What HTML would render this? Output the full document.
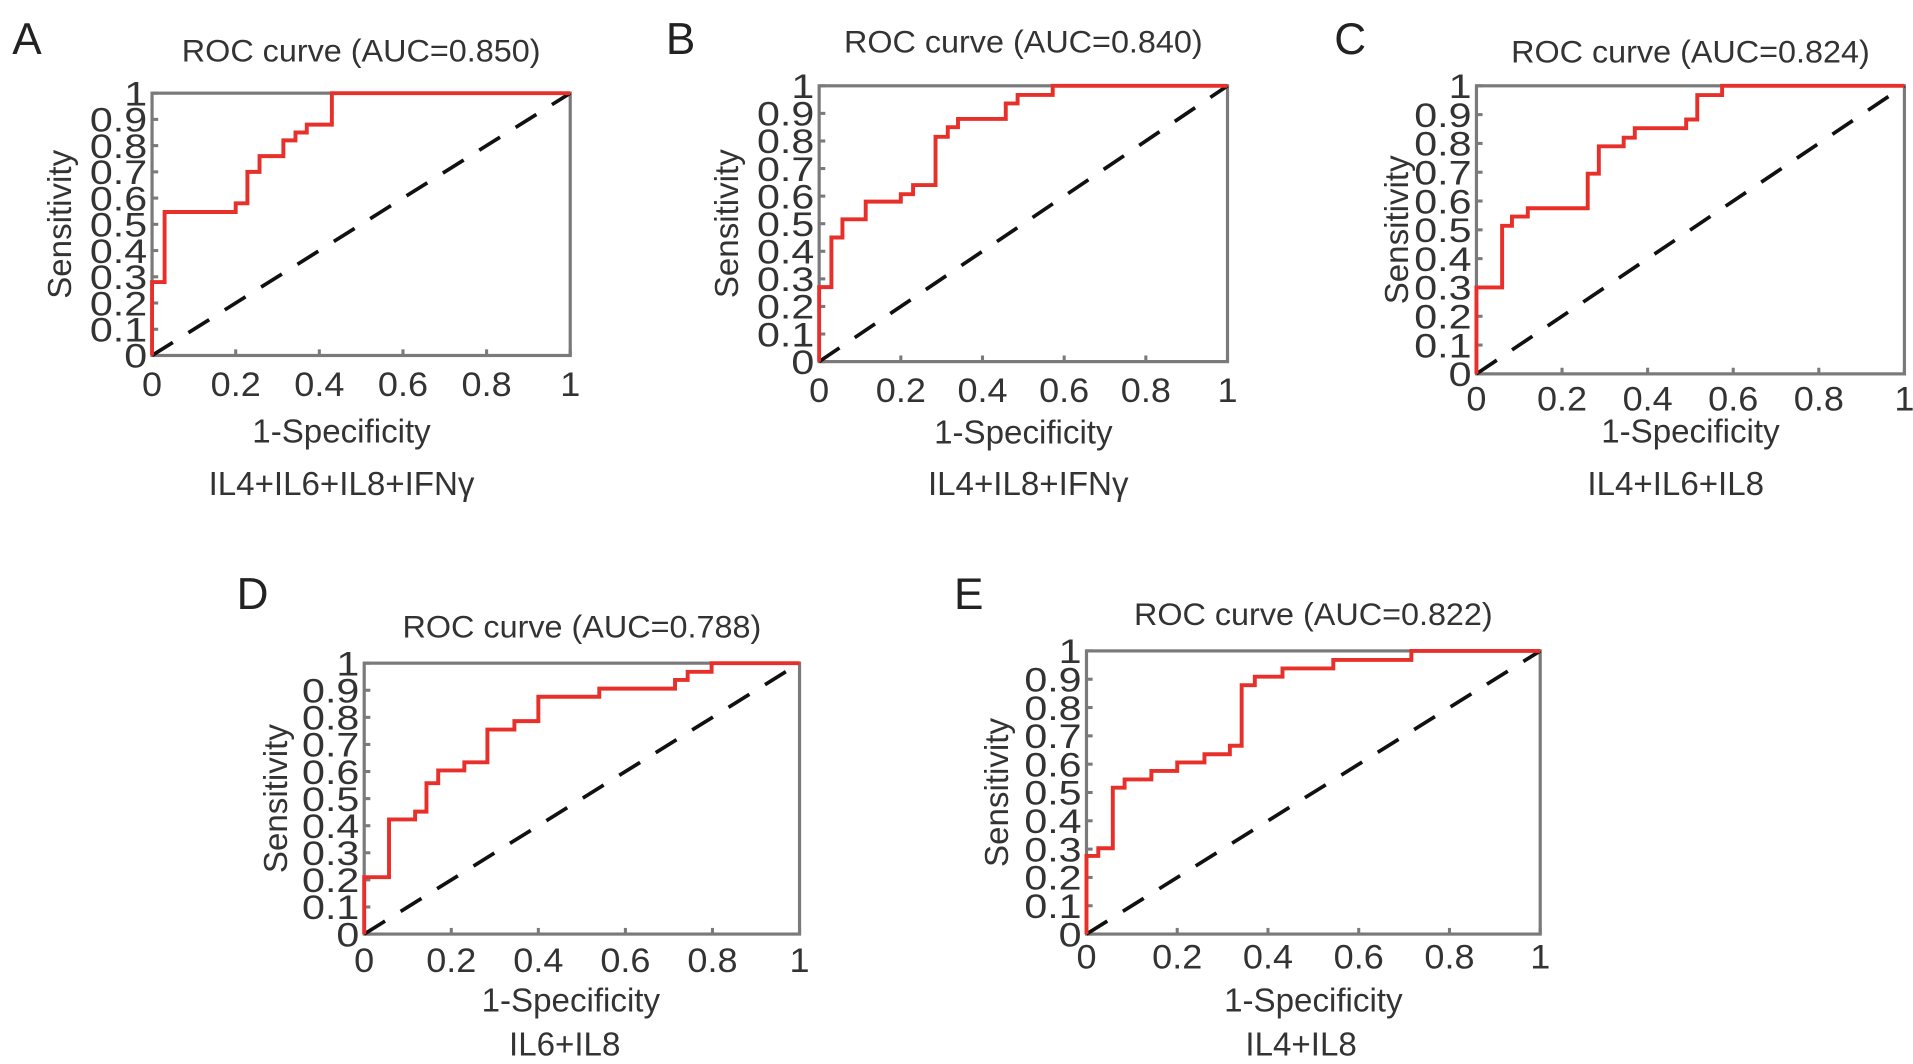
<!DOCTYPE html>
<html><head><meta charset="utf-8"><style>
html,body{margin:0;padding:0;background:#fff;}
svg{display:block;font-family:"Liberation Sans",Arial,sans-serif;}
</style></head><body>
<svg id="fig" width="1913" height="1064" viewBox="0 0 1560 868" preserveAspectRatio="none" xmlns="http://www.w3.org/2000/svg"></svg>
<script>
// ROC data (corner points of step curves)
const fprA=[0,0,0.03,0.03,0.20,0.20,0.228,0.228,0.257,0.257,0.314,0.314,0.343,0.343,0.37,0.37,0.43,0.43,1];
const tprA=[0,0.28,0.28,0.547,0.547,0.58,0.58,0.70,0.70,0.76,0.76,0.82,0.82,0.85,0.85,0.88,0.88,1,1];
const fprB=[0,0,0.03,0.03,0.057,0.057,0.114,0.114,0.20,0.20,0.23,0.23,0.285,0.285,0.315,0.315,0.34,0.34,0.457,0.457,0.486,0.486,0.572,0.572,1];
const tprB=[0,0.27,0.27,0.45,0.45,0.516,0.516,0.58,0.58,0.607,0.607,0.64,0.64,0.815,0.815,0.85,0.85,0.88,0.88,0.936,0.936,0.967,0.967,1,1];
const fprC=[0,0,0.06,0.06,0.083,0.083,0.12,0.12,0.26,0.26,0.286,0.286,0.344,0.344,0.37,0.37,0.49,0.49,0.516,0.516,0.574,0.574,1];
const tprC=[0,0.30,0.30,0.514,0.514,0.546,0.546,0.575,0.575,0.695,0.695,0.79,0.79,0.82,0.82,0.853,0.853,0.883,0.883,0.968,0.968,1,1];
const fprD=[0,0,0.057,0.057,0.117,0.117,0.143,0.143,0.17,0.17,0.23,0.23,0.283,0.283,0.345,0.345,0.40,0.40,0.54,0.54,0.714,0.714,0.743,0.743,0.798,0.798,1];
const tprD=[0,0.21,0.21,0.423,0.423,0.452,0.452,0.557,0.557,0.604,0.604,0.634,0.634,0.755,0.755,0.786,0.786,0.876,0.876,0.906,0.906,0.938,0.938,0.968,0.968,1,1];
const fprE=[0,0,0.026,0.026,0.058,0.058,0.084,0.084,0.143,0.143,0.2,0.2,0.26,0.26,0.316,0.316,0.342,0.342,0.371,0.371,0.432,0.432,0.544,0.544,0.716,0.716,1];
const tprE=[0,0.276,0.276,0.303,0.303,0.517,0.517,0.546,0.546,0.576,0.576,0.606,0.606,0.635,0.635,0.665,0.665,0.879,0.879,0.909,0.909,0.938,0.938,0.968,0.968,1,1];
const aucValues=["0.850","0.840","0.824","0.788","0.822"];
const panelLetters=["A","B","C","D","E"];
const subtitles=["IL4+IL6+IL8+IFNγ","IL4+IL8+IFNγ","IL4+IL6+IL8","IL6+IL8","IL4+IL8"];
const yTickLabels=["0","0.1","0.2","0.3","0.4","0.5","0.6","0.7","0.8","0.9","1"];
const xTickLabels=["0","0.2","0.4","0.6","0.8","1"];

const series=[[fprA,tprA],[fprB,tprB],[fprC,tprC],[fprD,tprD],[fprE,tprE]];
const layout=[
 {l:124,r:465,t:76,b:290,ty:50,lx:10,ly:44,xl:323,xt:361,st:404,yt:58,xo:-16,so:-16},
 {l:668,r:1001,t:70,b:295,ty:43,lx:543,ly:44,xl:328,xt:362,st:404,yt:602,xo:0,so:4},
 {l:1204,r:1553,t:70,b:305,ty:51,lx:1088,ly:44,xl:335,xt:361,st:404,yt:1148,xo:0,so:-12},
 {l:297,r:652,t:541,b:762,ty:520,lx:193,ly:497,xl:793,xt:825,st:861,yt:234,xo:-9,so:-14},
 {l:886,r:1256,t:531,b:762,ty:510,lx:778,ly:497,xl:790,xt:825,st:861,yt:822,xo:0,so:-10}
];
const NS="http://www.w3.org/2000/svg";
const svg=document.getElementById('fig');
function mk(tag,attrs,parent){const e=document.createElementNS(NS,tag);for(const k in attrs)e.setAttribute(k,attrs[k]);(parent||svg).appendChild(e);return e;}
function txt(parent,x,y,size,anchor,sx,content,rot){
  const tr='translate('+x+','+y+')'+(rot?' rotate(-90)':'')+' scale('+sx+',1)';
  const t=mk('text',{x:0,y:0,'font-size':size,fill:'#333','text-anchor':anchor,transform:tr},parent);
  t.textContent=content;return t;
}

layout.forEach((L,i)=>{
  const g=mk('g',{});
  
  
  const xs=v=>L.l+v*(L.r-L.l);
  const ys=v=>L.b-v*(L.b-L.t);
  const letter=txt(g,L.lx,L.ly,36,'start',1,panelLetters[i]);
  letter.setAttribute('fill','#222');
  
  
  const title=txt(g,(L.l+L.r)/2,L.ty,26,'middle',1.015,'ROC curve (AUC='+aucValues[i]+')');
  
  
  const box=mk('rect',{x:L.l,y:L.t,width:L.r-L.l,height:L.b-L.t,fill:'none',stroke:'#7a7a7a','stroke-width':2.6},g);
  
  
  yTickLabels.forEach((lab,k)=>{
    const v=k/10,y=ys(v);
    const tk=mk('line',{x1:L.l,x2:L.l+5,y1:y,y2:y,stroke:'#7a7a7a','stroke-width':2.5},g);
    
    
    const t=txt(g,L.l-4,y+10,28,'end',1.2,lab);
    
    
  });
  xTickLabels.forEach((lab,k)=>{
    const v=k/5,x=xs(v);
    const tk=mk('line',{x1:x,x2:x,y1:L.b,y2:L.b-5,stroke:'#7a7a7a','stroke-width':2.5},g);
    
    
    const t=txt(g,x,L.xl,28,'middle',1.05,lab);
    
    
  });
  const xt=txt(g,(L.l+L.r)/2+L.xo,L.xt,27,'middle',1.0,'1-Specificity');
  
  
  const st=txt(g,(L.l+L.r)/2+L.so,L.st,27,'middle',1.0,subtitles[i]);
  
  
  const yc=(L.t+L.b)/2;
  const yt=txt(g,L.yt,yc,27,'middle',1.0,'Sensitivity',true);
  
  
  const dg=mk('line',{x1:xs(0),y1:ys(0),x2:xs(1),y2:ys(1),stroke:'#111','stroke-width':3,'stroke-dasharray':'20,15'},g);
  
  
  const [fx,ty]=series[i];
  const d=fx.map((v,k)=>(k?'L':'M')+xs(v).toFixed(2)+','+ys(ty[k]).toFixed(2)).join(' ');
  const p=mk('path',{d:d,fill:'none',stroke:'#e8302a','stroke-width':3.2,'stroke-linejoin':'miter'},g);
  
  
});
</script>
</body></html>
